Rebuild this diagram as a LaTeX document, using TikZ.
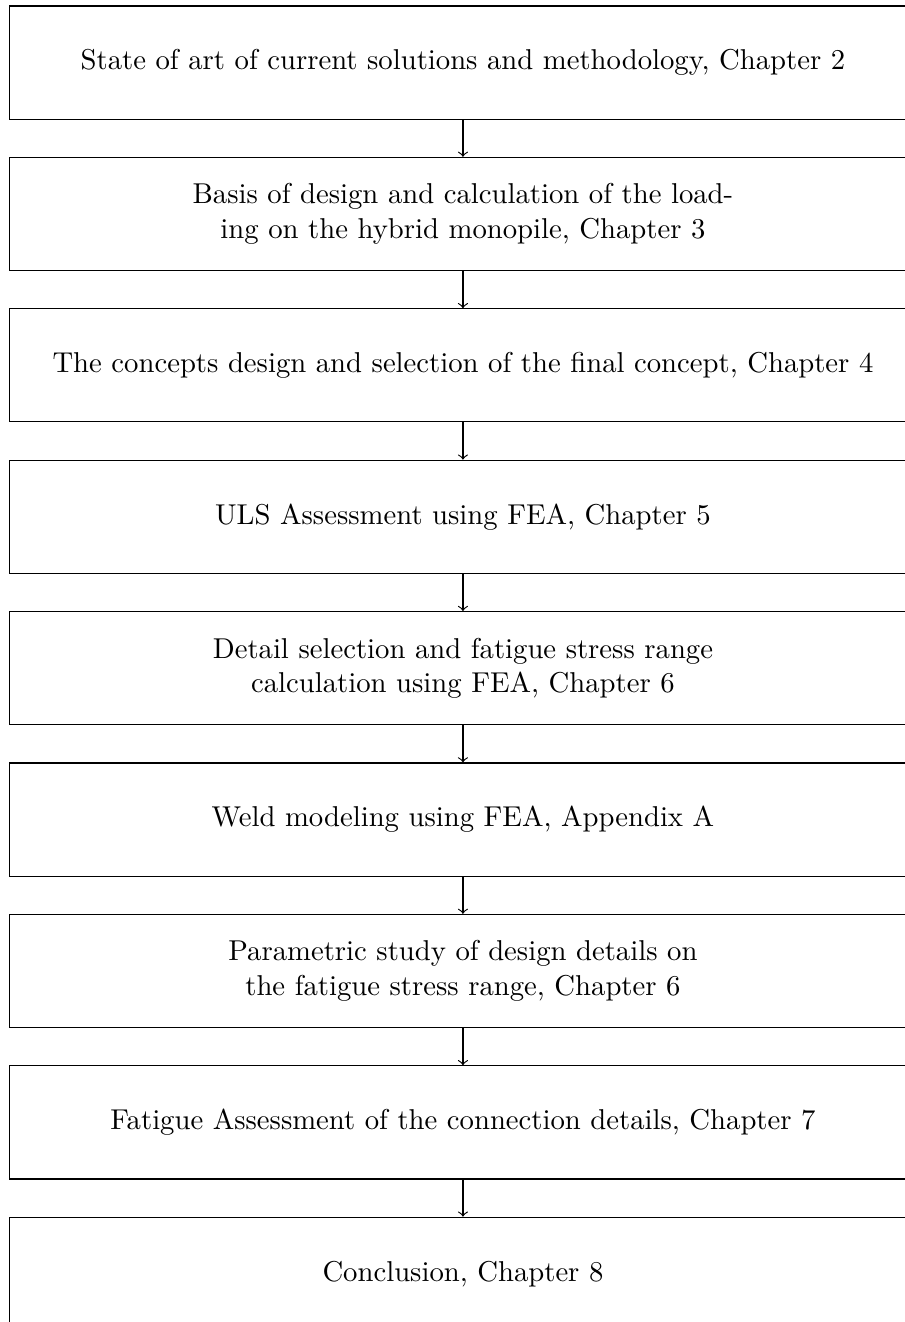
\documentclass[tikz,border=0pt]{standalone}
\usetikzlibrary{positioning}
\begin{document}
\begin{tikzpicture}[
    chapbox/.style={draw, rectangle, minimum width=316pt, minimum height=39.4pt, align=center},
    node distance=12.95pt
  ]
  \useasboundingbox (-161.3pt,21.8pt) rectangle (154.0pt,-438.8pt);
  % one box per chapter
  \node[chapbox] (state) at (0,0) {State of art of current solutions and methodology, Chapter 2};
  \node[chapbox, below=of state] (basis) {Basis of design and calculation of the load-\\ing on the hybrid monopile, Chapter 3};
  \node[chapbox, below=of basis] (concepts) {The concepts design and selection of the final concept, Chapter 4};
  \node[chapbox, below=of concepts] (uls) {ULS Assessment using FEA, Chapter 5};
  \node[chapbox, below=of uls] (detail) {Detail selection and fatigue stress range\\calculation using FEA, Chapter 6};
  \node[chapbox, below=of detail] (weld) {Weld modeling using FEA, Appendix A};
  \node[chapbox, below=of weld] (param) {Parametric study of design details on\\the fatigue stress range, Chapter 6};
  \node[chapbox, below=of param] (fatigue) {Fatigue Assessment of the connection details, Chapter 7};
  \node[chapbox, below=of fatigue] (concl) {Conclusion, Chapter 8};
  % arrows
  \draw[->] (state) -- (basis);
  \draw[->] (basis) -- (concepts);
  \draw[->] (concepts) -- (uls);
  \draw[->] (uls) -- (detail);
  \draw[->] (detail) -- (weld);
  \draw[->] (weld) -- (param);
  \draw[->] (param) -- (fatigue);
  \draw[->] (fatigue) -- (concl);
\end{tikzpicture}
\end{document}
